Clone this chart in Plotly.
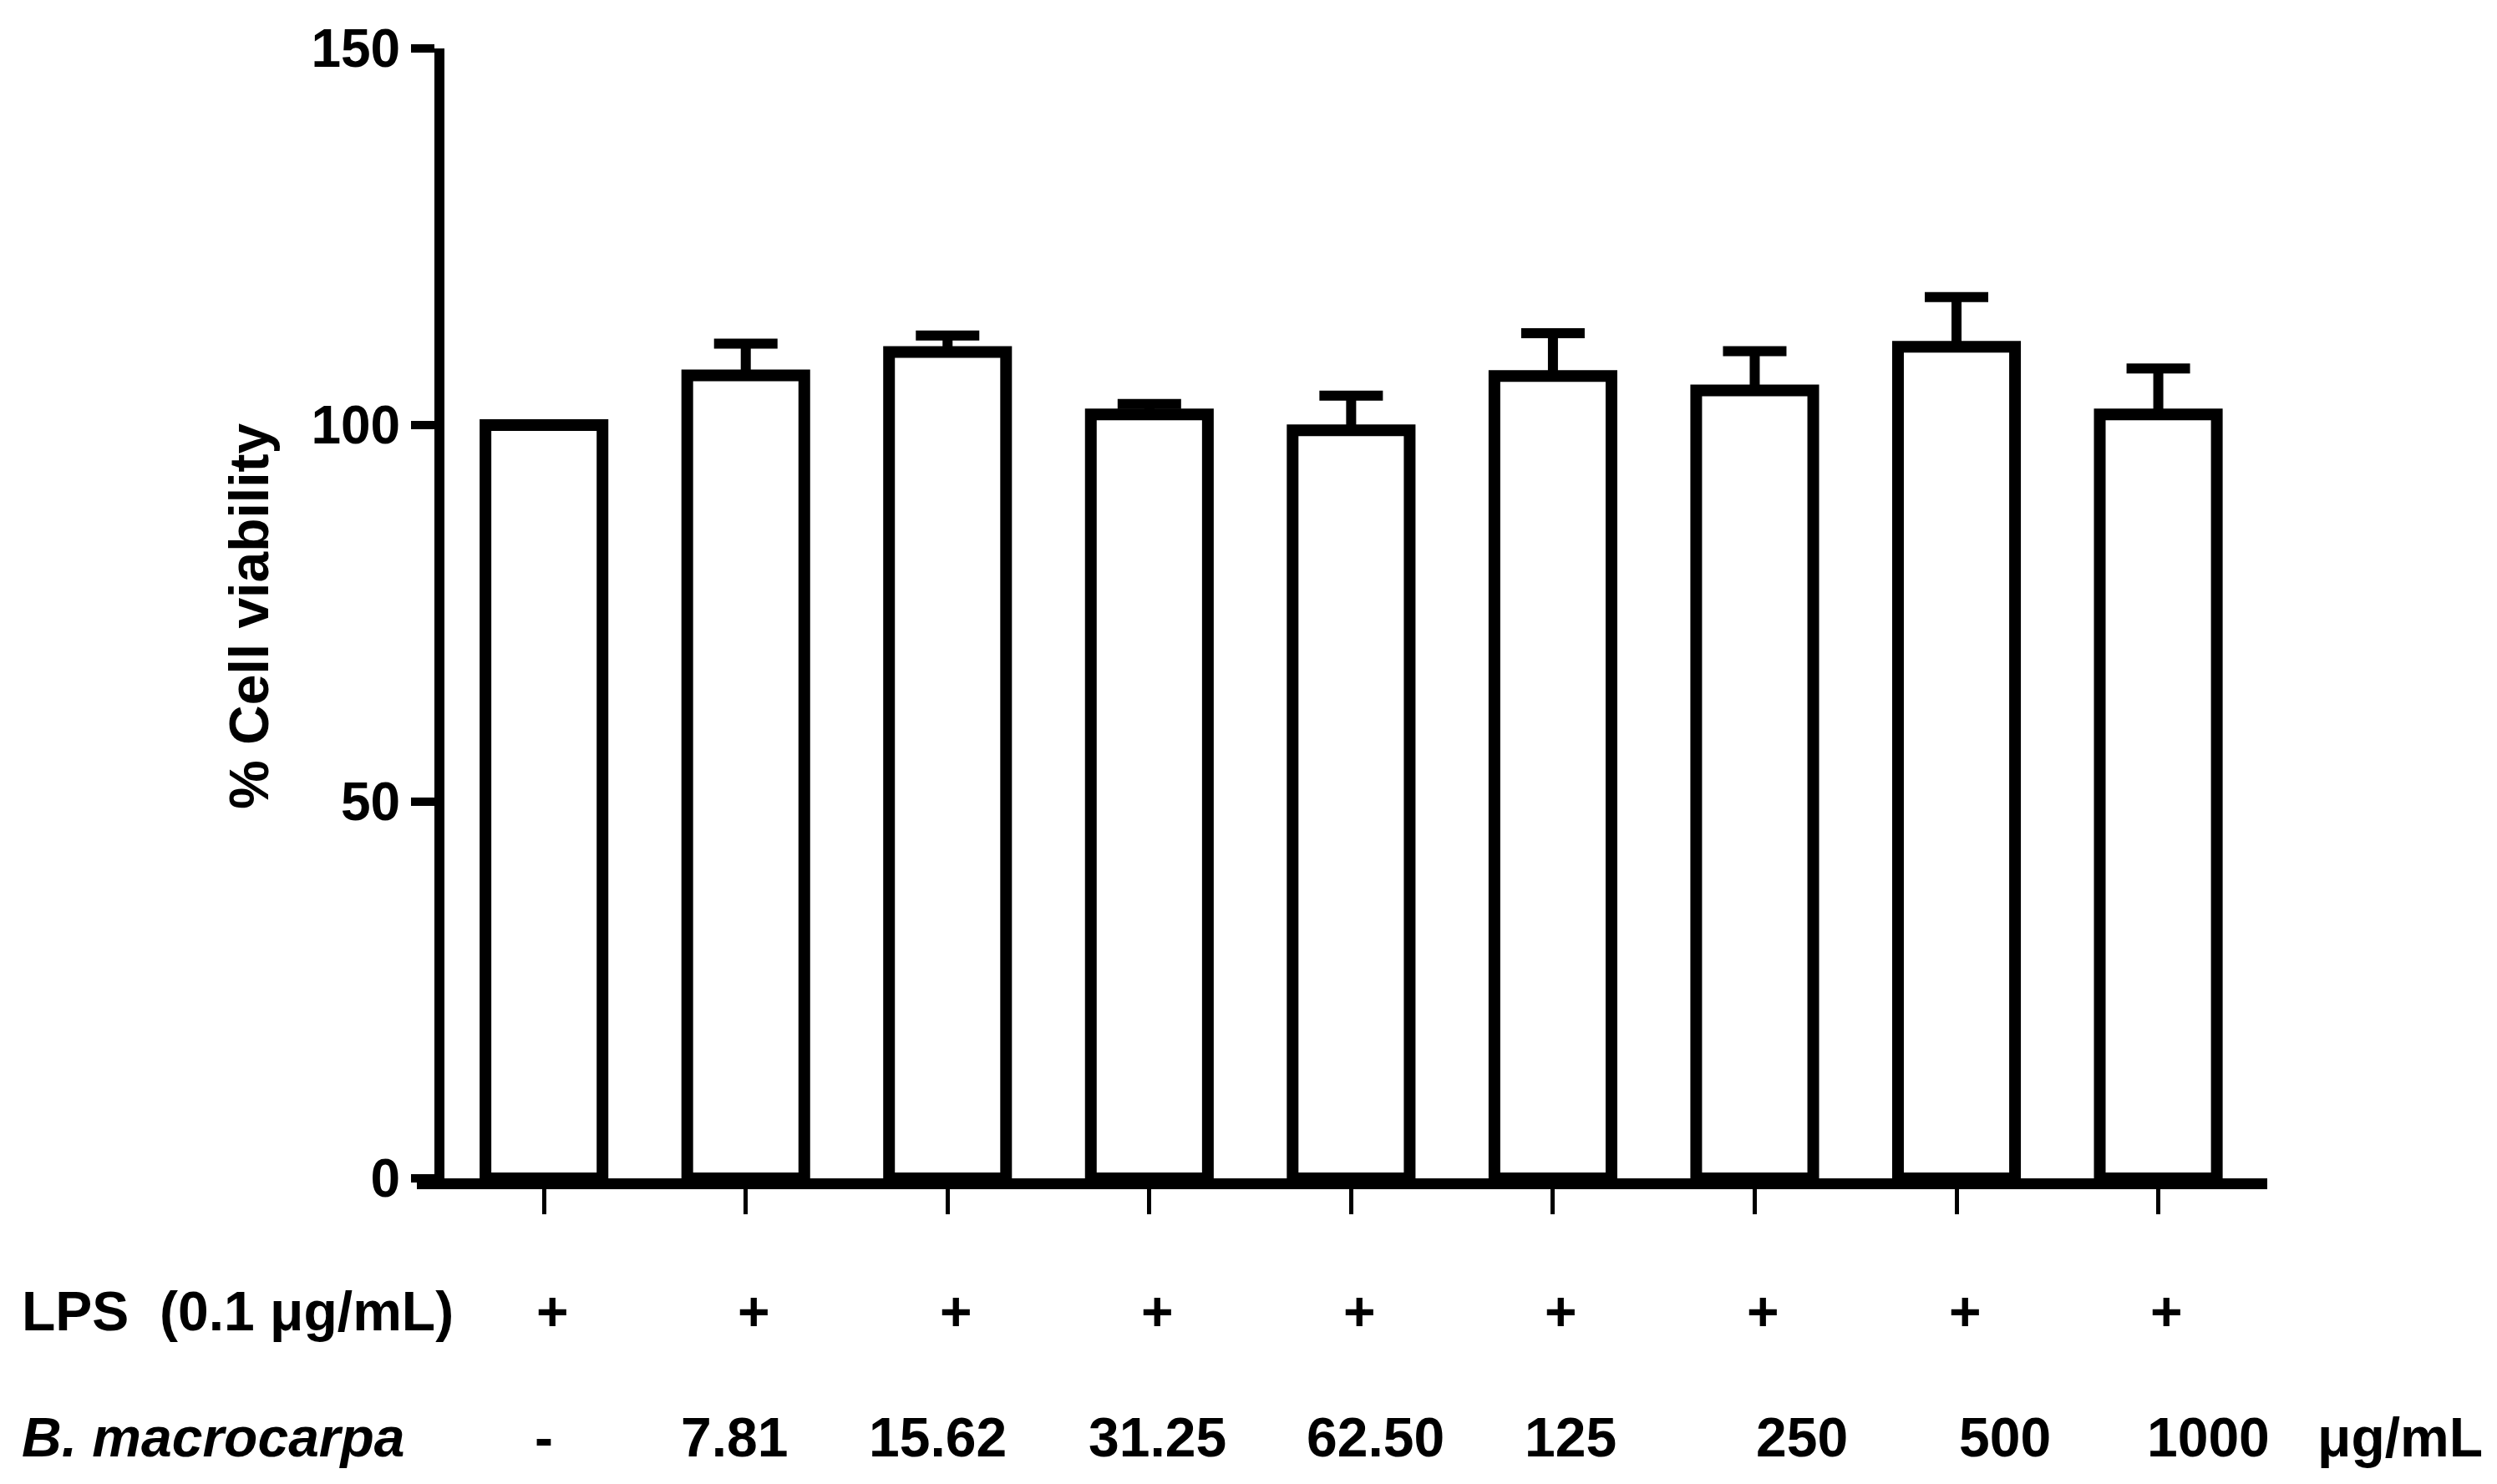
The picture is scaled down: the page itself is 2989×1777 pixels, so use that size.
import plotly.graph_objects as go

# ---- data ----
concentrations = ["-", "7.81", "15.62", "31.25", "62.50", "125", "250", "500", "1000"]
lps_marks = ["+", "+", "+", "+", "+", "+", "+", "+", "+"]
viability = [100.0, 106.6, 109.7, 101.4, 99.3, 106.5, 104.6, 110.4, 101.4]
sem = [0.0, 4.2, 2.2, 1.4, 4.6, 5.7, 5.2, 6.6, 6.1]
y_ticks = [0, 50, 100, 150]

# ---- layout helpers ----
W, H = 2989, 1777
L, R, T, B = 491, 283, 50, 374
plot_w = W - L - R
plot_h = H - T - B
FONT = "Liberation Sans, Arial, Helvetica, sans-serif"
FS = 66


def paper_x(px):
    return (px - L) / plot_w


def paper_y(py):
    return (H - B - py) / plot_h


# small horizontal nudges (px) for the concentration labels, as in the original
conc_label_xshift = [0, -14, -12, 10, 29, 21, 57, 58, 60]

fig = go.Figure()
fig.add_trace(go.Bar(
    x=concentrations,
    y=viability,
    width=0.58,
    marker=dict(color="white", line=dict(color="black", width=14)),
    error_y=dict(type="data", symmetric=False, array=sem,
                 arrayminus=[0] * len(sem), color="black",
                 thickness=12, width=38),
    showlegend=False,
))

annotations = []
annotations.append(dict(
    text="<b>% Cell viability</b>", textangle=-90,
    xref="paper", yref="paper", x=paper_x(290), y=paper_y(730),
    xanchor="center", yanchor="middle", showarrow=False,
    font=dict(family=FONT, size=66, color="black")))
annotations.append(dict(
    text="<b>LPS  (0.1 μg/mL)</b>",
    xref="paper", yref="paper", x=paper_x(16), y=paper_y(1562),
    xanchor="left", yanchor="middle", showarrow=False,
    font=dict(family=FONT, size=FS, color="black")))
annotations.append(dict(
    text="<b><i>B. macrocarpa</i></b>",
    xref="paper", yref="paper", x=paper_x(16), y=paper_y(1713),
    xanchor="left", yanchor="middle", showarrow=False,
    font=dict(family=FONT, size=FS, color="black")))
for i, m in enumerate(lps_marks):
    annotations.append(dict(
        text="<b>" + m + "</b>", xref="x", yref="paper", x=i, y=paper_y(1562),
        xanchor="center", yanchor="middle", showarrow=False, xshift=10,
        font=dict(family=FONT, size=FS, color="black")))
for i, (c, s) in enumerate(zip(concentrations, conc_label_xshift)):
    annotations.append(dict(
        text="<b>" + c + "</b>", xref="x", yref="paper", x=i, y=paper_y(1713),
        xanchor="center", yanchor="middle", showarrow=False, xshift=s,
        font=dict(family=FONT, size=FS, color="black")))
annotations.append(dict(
    text="<b>μg/mL</b>",
    xref="paper", yref="paper", x=paper_x(2865), y=paper_y(1713),
    xanchor="center", yanchor="middle", showarrow=False,
    font=dict(family=FONT, size=FS, color="black")))

fig.update_layout(
    width=W, height=H,
    margin=dict(l=L, r=R, t=T, b=B, pad=0),
    plot_bgcolor="white", paper_bgcolor="white",
    bargap=0.42,
    xaxis=dict(
        type="category", categoryorder="array", categoryarray=concentrations,
        range=[-0.63, 8.54], showline=True, linewidth=13, linecolor="black",
        ticks="outside", ticklen=30, tickwidth=5, tickcolor="black",
        showticklabels=False, showgrid=False, zeroline=False,
    ),
    yaxis=dict(
        range=[0, 150], tickvals=y_ticks, anchor="free", position=paper_x(518),
        showline=True, linewidth=12, linecolor="black",
        ticks="outside", ticklen=28, tickwidth=10, tickcolor="black",
        tickfont=dict(family=FONT, size=64, color="black", weight="bold"),
        showgrid=False, zeroline=False,
    ),
    annotations=annotations,
)

fig.write_html("out.html")
